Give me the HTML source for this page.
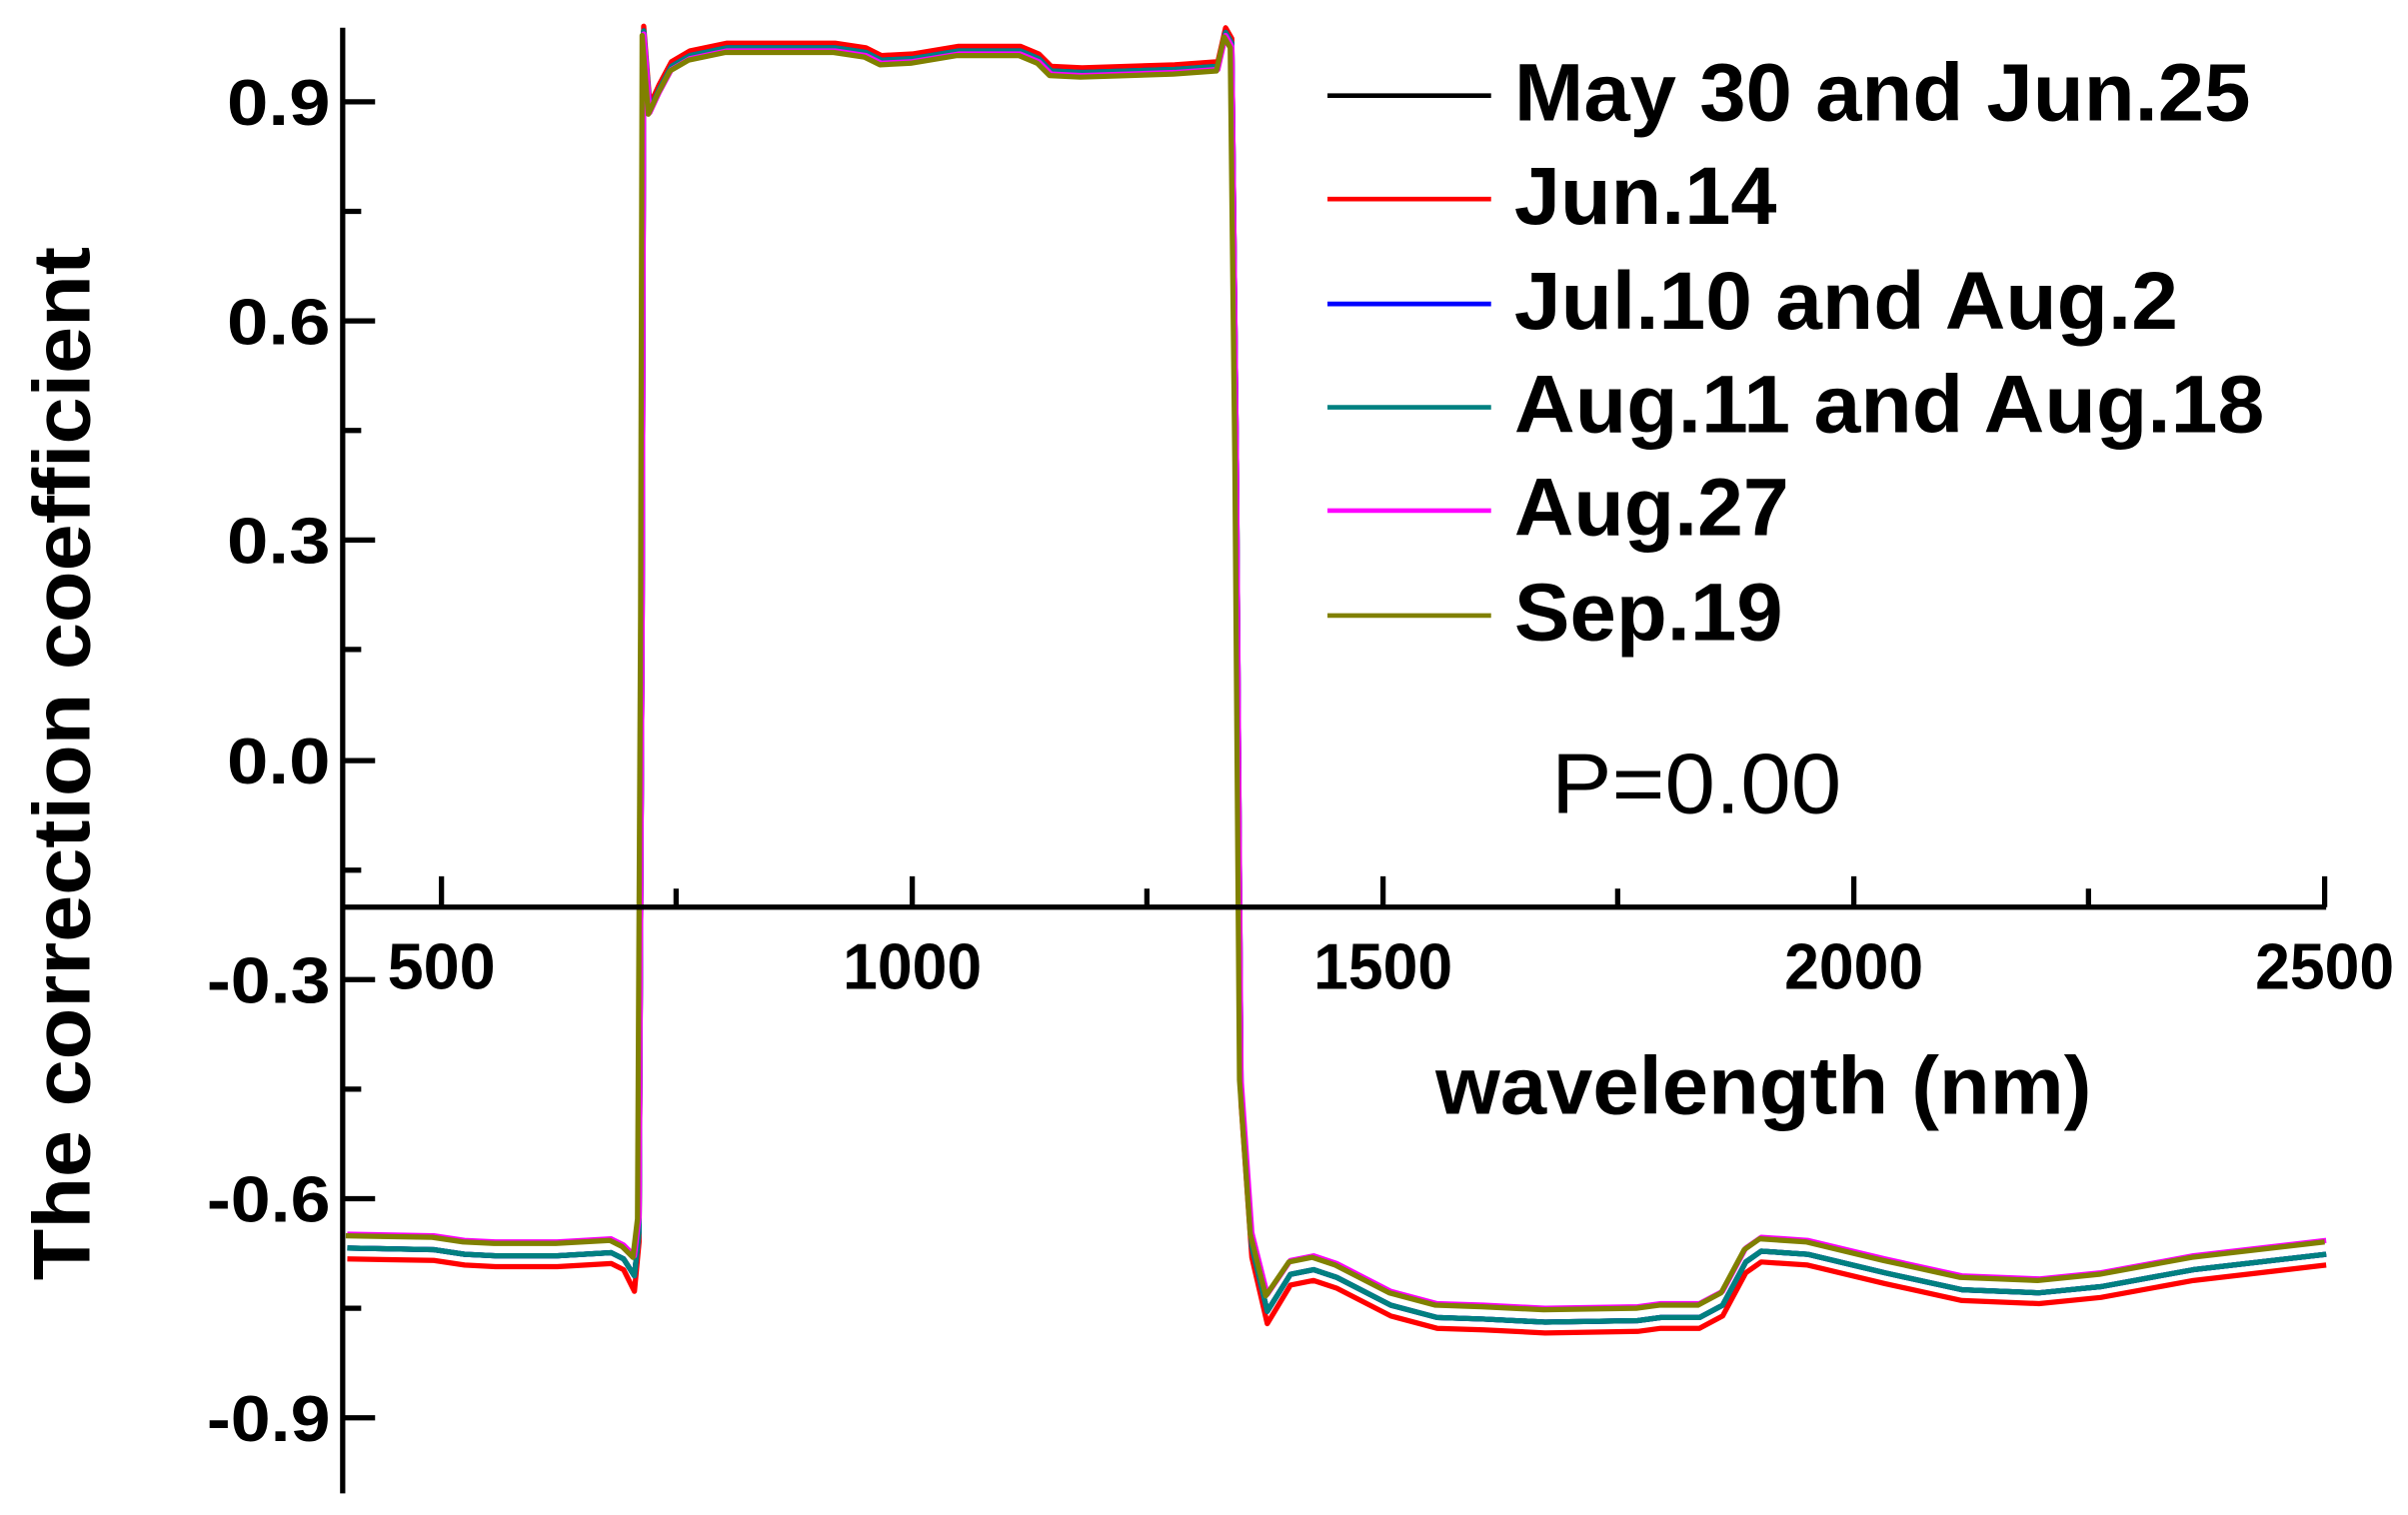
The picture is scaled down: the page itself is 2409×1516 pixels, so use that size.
<!DOCTYPE html>
<html><head><meta charset="utf-8"><style>
html,body{margin:0;padding:0;background:#fff;}
svg{display:block;}
</style></head><body>
<svg width="2409" height="1516" viewBox="0 0 1560 982" preserveAspectRatio="none" xmlns="http://www.w3.org/2000/svg" font-family="Liberation Sans, Arial, sans-serif">
<rect width="1560" height="982" fill="#fff"/>
<g fill="none" stroke-width="3.4" stroke-linejoin="round">
<path stroke="#000" d="M225,809 L281,810 L301,813 L321,814 L361,814 L396,812 L404,816 L411,827 L414,798 L416,400 L417,20 L421,71 L427,58 L435,43 L447,36 L471,31 L541,31 L561,34 L571,39 L591,38 L621,33 L661,33 L673,38 L681,46 L701,47 L761,45 L789,43 L794,21 L798,28 L801,300 L804,708 L811,808 L821,850 L836,826 L851,823 L866,828 L901,846 L931,854 L961,855 L1001,857 L1061,856 L1076,854 L1101,854 L1116,846 L1131,818 L1141,811 L1171,813 L1221,825 L1271,836 L1321,838 L1361,834 L1421,823 L1507,813"/>
<path stroke="#ff0000" d="M225,816 L281,817 L301,820 L321,821 L361,821 L396,819 L404,823 L411,837 L414,805 L416,400 L417,17 L421,68 L427,55 L435,40 L447,33 L471,28 L541,28 L561,31 L571,36 L591,35 L621,30 L661,30 L673,35 L681,43 L701,44 L761,42 L789,40 L794,18 L798,25 L801,300 L804,715 L811,815 L821,858 L836,833 L851,830 L866,835 L901,853 L931,861 L961,862 L1001,864 L1061,863 L1076,861 L1101,861 L1116,853 L1131,825 L1141,818 L1171,820 L1221,832 L1271,843 L1321,845 L1361,841 L1421,830 L1507,820"/>
<path stroke="#0000ff" d="M225,809 L281,810 L301,813 L321,814 L361,814 L396,812 L404,816 L411,827 L414,798 L416,400 L417,20 L421,71 L427,58 L435,43 L447,36 L471,31 L541,31 L561,34 L571,39 L591,38 L621,33 L661,33 L673,38 L681,46 L701,47 L761,45 L789,43 L794,21 L798,28 L801,300 L804,708 L811,808 L821,850 L836,826 L851,823 L866,828 L901,846 L931,854 L961,855 L1001,857 L1061,856 L1076,854 L1101,854 L1116,846 L1131,818 L1141,811 L1171,813 L1221,825 L1271,836 L1321,838 L1361,834 L1421,823 L1507,813"/>
<path stroke="#008080" d="M225,809 L281,810 L301,813 L321,814 L361,814 L396,812 L404,816 L411,827 L414,798 L416,400 L417,20 L421,71 L427,58 L435,43 L447,36 L471,31 L541,31 L561,34 L571,39 L591,38 L621,33 L661,33 L673,38 L681,46 L701,47 L761,45 L789,43 L794,21 L798,28 L801,300 L804,708 L811,808 L821,850 L836,826 L851,823 L866,828 L901,846 L931,854 L961,855 L1001,857 L1061,856 L1076,854 L1101,854 L1116,846 L1131,818 L1141,811 L1171,813 L1221,825 L1271,836 L1321,838 L1361,834 L1421,823 L1507,813"/>
<path stroke="#ff00ff" transform="translate(1,-1)" d="M224,801 L280,802 L300,805 L320,806 L360,806 L395,804 L403,808 L410,815 L413,790 L415,400 L416,23 L420,74 L426,61 L434,46 L446,39 L470,34 L540,34 L560,37 L570,42 L590,41 L620,36 L660,36 L672,41 L680,49 L700,50 L760,48 L788,46 L793,24 L797,31 L800,300 L803,700 L810,800 L820,840 L835,818 L850,815 L865,820 L900,838 L930,846 L960,847 L1000,849 L1060,848 L1075,846 L1100,846 L1115,838 L1130,810 L1140,803 L1170,805 L1220,817 L1270,828 L1320,830 L1360,826 L1420,815 L1506,805"/>
<path stroke="#808000" d="M224,801 L280,802 L300,805 L320,806 L360,806 L395,804 L403,808 L410,815 L413,790 L415,400 L416,23 L420,74 L426,61 L434,46 L446,39 L470,34 L540,34 L560,37 L570,42 L590,41 L620,36 L660,36 L672,41 L680,49 L700,50 L760,48 L788,46 L793,24 L797,31 L800,300 L803,700 L810,800 L820,840 L835,818 L850,815 L865,820 L900,838 L930,846 L960,847 L1000,849 L1060,848 L1075,846 L1100,846 L1115,838 L1130,810 L1140,803 L1170,805 L1220,817 L1270,828 L1320,830 L1360,826 L1420,815 L1506,805"/>
</g>
<g stroke="#000" stroke-width="3.4" fill="none">
<line x1="222" y1="18" x2="222" y2="968"/>
<line x1="222" y1="588" x2="1507" y2="588"/>
<line x1="222" y1="66" x2="243" y2="66"/>
<line x1="222" y1="208" x2="243" y2="208"/>
<line x1="222" y1="350" x2="243" y2="350"/>
<line x1="222" y1="493" x2="243" y2="493"/>
<line x1="222" y1="635" x2="243" y2="635"/>
<line x1="222" y1="777" x2="243" y2="777"/>
<line x1="222" y1="919" x2="243" y2="919"/>
<line x1="222" y1="137" x2="234" y2="137"/>
<line x1="222" y1="279" x2="234" y2="279"/>
<line x1="222" y1="421" x2="234" y2="421"/>
<line x1="222" y1="564" x2="234" y2="564"/>
<line x1="222" y1="706" x2="234" y2="706"/>
<line x1="222" y1="848" x2="234" y2="848"/>
<line x1="286" y1="588" x2="286" y2="568"/>
<line x1="591" y1="588" x2="591" y2="568"/>
<line x1="896" y1="588" x2="896" y2="568"/>
<line x1="1201" y1="588" x2="1201" y2="568"/>
<line x1="1506" y1="588" x2="1506" y2="568"/>
<line x1="438" y1="588" x2="438" y2="576"/>
<line x1="743" y1="588" x2="743" y2="576"/>
<line x1="1048" y1="588" x2="1048" y2="576"/>
<line x1="1353" y1="588" x2="1353" y2="576"/>
</g>
<g font-weight="bold" font-size="42" fill="#000" text-anchor="end">
<text x="214" y="81" textLength="67" lengthAdjust="spacingAndGlyphs">0.9</text>
<text x="214" y="223" textLength="67" lengthAdjust="spacingAndGlyphs">0.6</text>
<text x="214" y="365" textLength="67" lengthAdjust="spacingAndGlyphs">0.3</text>
<text x="214" y="508" textLength="67" lengthAdjust="spacingAndGlyphs">0.0</text>
<text x="214" y="650" textLength="80" lengthAdjust="spacingAndGlyphs">-0.3</text>
<text x="214" y="792" textLength="80" lengthAdjust="spacingAndGlyphs">-0.6</text>
<text x="214" y="934" textLength="80" lengthAdjust="spacingAndGlyphs">-0.9</text>
</g>
<g font-weight="bold" font-size="42" fill="#000" text-anchor="middle">
<text x="286" y="641" textLength="70" lengthAdjust="spacingAndGlyphs">500</text>
<text x="591" y="641" textLength="90" lengthAdjust="spacingAndGlyphs">1000</text>
<text x="896" y="641" textLength="90" lengthAdjust="spacingAndGlyphs">1500</text>
<text x="1201" y="641" textLength="90" lengthAdjust="spacingAndGlyphs">2000</text>
<text x="1506" y="641" textLength="90" lengthAdjust="spacingAndGlyphs">2500</text>
</g>
<text x="930" y="722" font-weight="bold" font-size="53" textLength="425" lengthAdjust="spacingAndGlyphs">wavelength (nm)</text>
<text x="1005" y="527" font-size="55" textLength="188" lengthAdjust="spacingAndGlyphs">P=0.00</text>
<text transform="translate(58,495) rotate(-90)" text-anchor="middle" font-weight="bold" font-size="52" textLength="670" lengthAdjust="spacingAndGlyphs">The correction coefficient</text>
<g stroke-width="3">
<line x1="860" y1="62" x2="966" y2="62" stroke="#000"/>
<line x1="860" y1="129" x2="966" y2="129" stroke="#ff0000"/>
<line x1="860" y1="197" x2="966" y2="197" stroke="#0000ff"/>
<line x1="860" y1="264" x2="966" y2="264" stroke="#008080"/>
<line x1="860" y1="331" x2="966" y2="331" stroke="#ff00ff"/>
<line x1="860" y1="399" x2="966" y2="399" stroke="#808000"/>
</g>
<g font-weight="bold" font-size="53" fill="#000">
<text x="981" y="78" textLength="477" lengthAdjust="spacingAndGlyphs">May 30 and Jun.25</text>
<text x="981" y="145" textLength="170" lengthAdjust="spacingAndGlyphs">Jun.14</text>
<text x="981" y="213" textLength="430" lengthAdjust="spacingAndGlyphs">Jul.10 and Aug.2</text>
<text x="981" y="280" textLength="486" lengthAdjust="spacingAndGlyphs">Aug.11 and Aug.18</text>
<text x="981" y="347" textLength="178" lengthAdjust="spacingAndGlyphs">Aug.27</text>
<text x="981" y="415" textLength="174" lengthAdjust="spacingAndGlyphs">Sep.19</text>
</g>
</svg>
</body></html>
